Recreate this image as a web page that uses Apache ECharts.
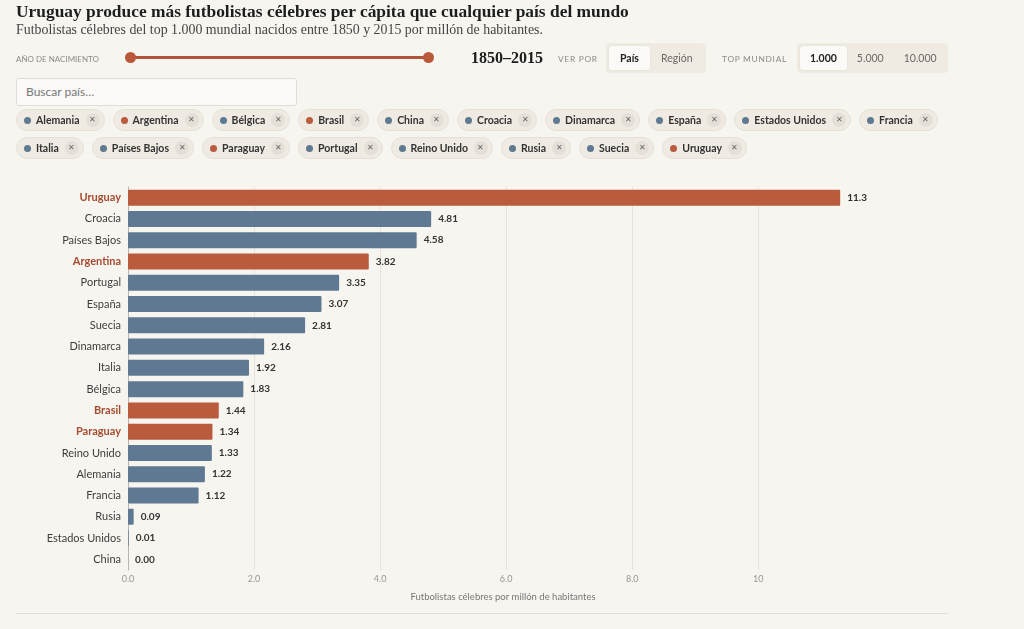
<!DOCTYPE html>
<html>
<head>
<meta charset="utf-8">
<script src="https://cdn.jsdelivr.net/npm/echarts@6/dist/echarts.min.js"></script>
<style>
  html, body { margin: 0; padding: 0; background: #f7f5f0; width: 1024px; height: 629px; overflow: hidden; }
  #chart { position: absolute; left: 0; top: 0; width: 1024px; height: 629px; }
  .ov { position: absolute; font-family: Lato, "Noto Sans", sans-serif; }
  #title { left: 16px; top: 1px; font-family: "Liberation Serif", "DejaVu Serif", serif; font-weight: bold; font-size: 17.4px; color: #1d1d1d; white-space: nowrap; }
  #subtitle { left: 16px; top: 22px; font-family: "Liberation Serif", "DejaVu Serif", serif; font-size: 13.9px; color: #444; white-space: nowrap; }
  .cap { font-size: 8.4px; letter-spacing: 0.7px; color: #8e8a84; white-space: nowrap; }
  #capYear { letter-spacing: 0px; font-size: 8px; }
  #slider { left: 130px; top: 56px; width: 299px; height: 3px; background: #b0543a; border-radius: 2px; }
  .knob { position: absolute; width: 11px; height: 11px; border-radius: 50%; background: #b9583a; top: -4px; }
  #range { left: 471px; top: 49px; font-family: "Liberation Serif", "DejaVu Serif", serif; font-weight: bold; font-size: 16px; color: #1d1d1d; }
  .seg { background: #efebe3; border-radius: 4px; height: 30px; display: flex; align-items: center; padding: 0 3px; box-sizing: border-box; }
  .seg span { font-size: 10.5px; color: #6d6862; padding: 0 10px; height: 24px; line-height: 24px; border-radius: 3px; }
  #seg1 span { padding: 0 11px; }
  .seg span.on { background: #fbfaf7; color: #222; font-weight: bold; box-shadow: 0 0 2px rgba(0,0,0,0.08); }
  #search { left: 16px; top: 78px; width: 281px; height: 28px; background: #fbfaf8; border: 1px solid #e1ddd5; border-radius: 3px; box-sizing: border-box; font-size: 12px; color: #777; line-height: 26px; padding-left: 9px; }
  #chips { left: 16px; top: 109px; width: 932px; display: flex; flex-wrap: wrap; gap: 6px 8px; }
  .chip { display: flex; align-items: center; height: 22px; background: #efebe3; border: 1px solid #e4e0d7; border-radius: 11px; box-sizing: border-box; padding: 0 4px 0 7px; font-size: 10.5px; color: #333; font-weight: bold; }
  .chip .dot { width: 7px; height: 7px; border-radius: 50%; margin-right: 5px; }
  .chip .x { width: 14px; height: 14px; border-radius: 50%; background: #e4e0d7; margin-left: 6px; font-size: 7.5px; color: #666; text-align: center; line-height: 14px; font-weight: normal; }
  #rule { left: 16px; top: 613px; width: 932px; height: 1px; background: #e2ded6; }
</style>
</head>
<body>
<div id="chart"></div>
<div class="ov" id="title"></div>
<div class="ov" id="subtitle"></div>
<div class="ov cap" id="capYear" style="left:16px;top:54px;">AÑO DE NACIMIENTO</div>
<div class="ov" id="slider"><div class="knob" style="left:-5px"></div><div class="knob" style="right:-5px"></div></div>
<div class="ov" id="range"></div>
<div class="ov cap" style="left:558px;top:54px;">VER POR</div>
<div class="ov seg" id="seg1" style="left:606px;top:43px;width:100px;"></div>
<div class="ov cap" style="left:722px;top:54px;">TOP MUNDIAL</div>
<div class="ov seg" id="seg2" style="left:797px;top:43px;width:151px;"></div>
<div class="ov" id="search">Buscar país…</div>
<div class="ov" id="chips"></div>
<div class="ov" id="rule"></div>
<script>
// ---- data ----
const titleText = "Uruguay produce más futbolistas célebres per cápita que cualquier país del mundo";
const subtitleText = "Futbolistas célebres del top 1.000 mundial nacidos entre 1850 y 2015 por millón de habitantes.";
const rangeText = "1850–2015";
const viewOptions = ["País", "Región"];
const topOptions = ["1.000", "5.000", "10.000"];
const countries = ["Uruguay", "Croacia", "Países Bajos", "Argentina", "Portugal", "España", "Suecia", "Dinamarca", "Italia", "Bélgica", "Brasil", "Paraguay", "Reino Unido", "Alemania", "Francia", "Rusia", "Estados Unidos", "China"];
const values = [11.3, 4.81, 4.58, 3.82, 3.35, 3.07, 2.81, 2.16, 1.92, 1.83, 1.44, 1.34, 1.33, 1.22, 1.12, 0.09, 0.01, 0.00];
const highlighted = ["Uruguay", "Argentina", "Brasil", "Paraguay"];
const chipOrder = ["Alemania", "Argentina", "Bélgica", "Brasil", "China", "Croacia", "Dinamarca", "España", "Estados Unidos", "Francia", "Italia", "Países Bajos", "Paraguay", "Portugal", "Reino Unido", "Rusia", "Suecia", "Uruguay"];
const gridTicks = [2, 4, 6, 8, 10];
const axisTitle = "Futbolistas célebres por millón de habitantes";

const ORANGE = "#b95b3d", BLUE = "#5e7991";

document.getElementById('title').textContent = titleText;
document.getElementById('subtitle').textContent = subtitleText;
document.getElementById('range').textContent = rangeText;
document.getElementById('seg1').innerHTML = viewOptions.map((t, i) => `<span class="${i === 0 ? 'on' : ''}">${t}</span>`).join('');
document.getElementById('seg2').innerHTML = topOptions.map((t, i) => `<span class="${i === 0 ? 'on' : ''}">${t}</span>`).join('');
document.getElementById('chips').innerHTML = chipOrder.map(c =>
  `<div class="chip"><span class="dot" style="background:${highlighted.includes(c) ? ORANGE : BLUE}"></span>${c}<span class="x">✕</span></div>`).join('');

const chart = echarts.init(document.getElementById('chart'), null, { renderer: 'canvas' });
const font = 'Lato';
chart.setOption({
  backgroundColor: 'transparent',
  animation: false,
  grid: { left: 128, right: 146, top: 187, bottom: 59, containLabel: false },
  xAxis: {
    type: 'value', min: 0, max: 11.9, interval: 2,
    splitLine: { show: false },
    axisLine: { show: false }, axisTick: { show: false },
    axisLabel: {
      margin: 5, fontSize: 9, color: '#9a968f', fontFamily: font,
      formatter: v => (Math.abs(v % 2) > 1e-9 ? '' : (v >= 10 ? String(v) : v.toFixed(1)))
    },
    name: axisTitle, nameLocation: 'middle', nameGap: 22,
    nameTextStyle: { fontSize: 9.5, color: '#777', fontFamily: font }
  },
  yAxis: {
    type: 'category', inverse: true, data: countries,
    axisLine: { show: true, lineStyle: { color: '#b9b5ae', width: 1 } },
    axisTick: { show: false },
    axisLabel: {
      margin: 7, fontFamily: font,
      formatter: v => highlighted.includes(v) ? `{h|${v}}` : `{n|${v}}`,
      rich: {
        h: { fontSize: 11, fontWeight: 'bold', color: '#a54b30', fontFamily: font },
        n: { fontSize: 11, color: '#3d3d3d', fontFamily: font }
      }
    }
  },
  series: [{
    type: 'bar',
    data: values.map((v, i) => ({ value: v, itemStyle: { color: highlighted.includes(countries[i]) ? ORANGE : BLUE } })),
    barWidth: 16,
    itemStyle: { borderRadius: 1 },
    label: {
      show: true, position: 'right', distance: 7, fontSize: 10, fontWeight: 'bold', color: '#333', fontFamily: font,
      formatter: p => p.value >= 10 ? p.value.toFixed(1) : p.value.toFixed(2)
    },
    markLine: {
      silent: true, symbol: 'none', label: { show: false }, z: 0,
      lineStyle: { color: '#e7e3db', width: 1, type: 'solid' },
      data: gridTicks.map(t => ({ xAxis: t }))
    }
  }]
});
</script>
</body>
</html>
